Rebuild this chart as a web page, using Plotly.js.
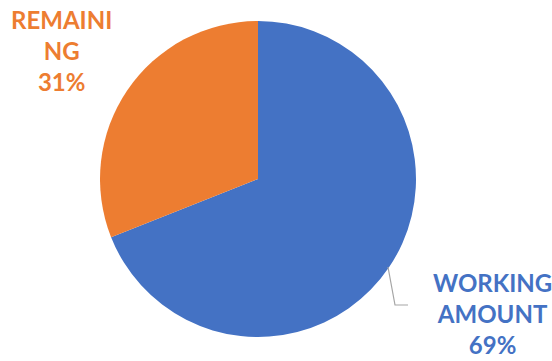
<!DOCTYPE html>
<html>
<head>
<meta charset="utf-8">
<script src="https://cdn.plot.ly/plotly-3.0.1.min.js"></script>
<style>html,body{margin:0;padding:0;background:#fff;}#chart{width:552px;height:361px;}</style>
</head>
<body>
<div id="chart"></div>
<script>
const categories = ["WORKING AMOUNT", "REMAINING"];
const displayLabels = ["WORKING<br>AMOUNT", "REMAINI<br>NG"];
const values = [69, 31];
const colors = ["#4472C4", "#ED7D31"];

const total = values.reduce((a, b) => a + b, 0);
const pct = values.map(v => Math.round(v / total * 100) + "%");

const W = 552, H = 361;
const px = x => x / W;
const py = y => 1 - y / H;

const trace = {
  type: "pie",
  labels: categories,
  values: values,
  sort: false,
  direction: "clockwise",
  rotation: 0,
  marker: { colors: colors, line: { width: 0 } },
  textinfo: "none",
  hoverinfo: "none",
  showlegend: false,
  domain: { x: [px(100), px(416)], y: [py(337), py(21)] }
};

const labelPos = [
  { x: px(492), y: py(313) },
  { x: px(61), y: py(51) }
];

const annotations = categories.map((c, i) => ({
  xref: "paper", yref: "paper",
  x: labelPos[i].x, y: labelPos[i].y,
  xanchor: "center", yanchor: "middle",
  align: "center",
  showarrow: false,
  text: "<b>" + displayLabels[i] + "<br>" + pct[i] + "</b>",
  font: { family: "Lato, 'Open Sans', sans-serif", size: 24, color: colors[i] }
}));

const layout = {
  width: W, height: H,
  margin: { l: 0, r: 0, t: 0, b: 0 },
  paper_bgcolor: "#ffffff",
  annotations: annotations,
  shapes: [{
    type: "path", xref: "paper", yref: "paper",
    path: "M " + px(388) + " " + py(267) + " L " + px(395) + " " + py(305) + " L " + px(408) + " " + py(305),
    line: { color: "#A5A5A5", width: 1.2 }
  }]
};

Plotly.newPlot("chart", [trace], layout, { staticPlot: true, displayModeBar: false });
</script>
</body>
</html>
